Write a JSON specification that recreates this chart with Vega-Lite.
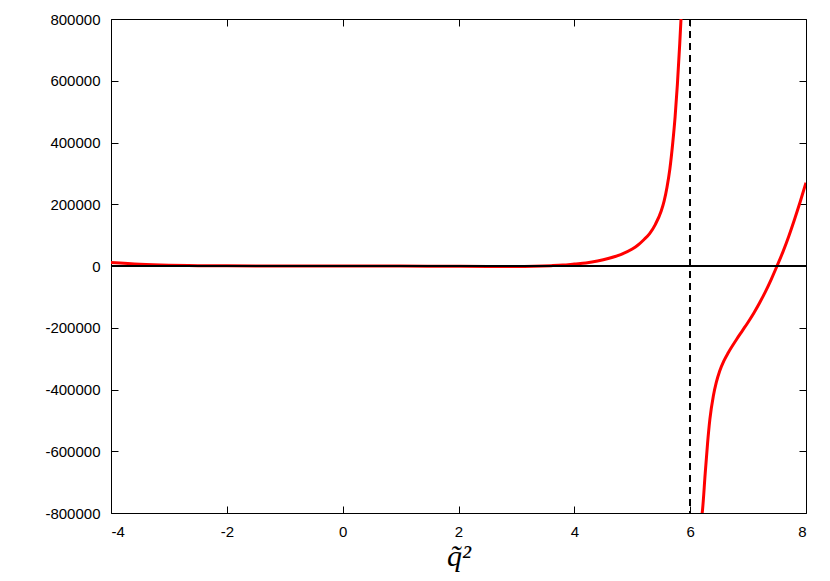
{
  "$schema": "https://vega.github.io/schema/vega-lite/v6.json",
  "width": 695,
  "height": 494,
  "autosize": {"type": "none"},
  "padding": {"left": 111, "top": 19, "right": 24, "bottom": 68},
  "background": "white",
  "config": {
    "view": {"stroke": "black", "strokeWidth": 1},
    "axis": {
      "labelFont": "Liberation Sans",
      "labelFontSize": 15,
      "labelColor": "black",
      "domain": false,
      "grid": false,
      "tickColor": "black",
      "tickSize": -7,
      "tickWidth": 1
    }
  },
  "data": {
    "values": [
      {"branch": "a", "q2": -4.0, "v": 11000},
      {"branch": "a", "q2": -3.5, "v": 5500},
      {"branch": "a", "q2": -3.0, "v": 2500},
      {"branch": "a", "q2": -2.5, "v": 1200},
      {"branch": "a", "q2": -2.0, "v": 500},
      {"branch": "a", "q2": -1.0, "v": 0},
      {"branch": "a", "q2": 0.0, "v": 0},
      {"branch": "a", "q2": 1.0, "v": -300},
      {"branch": "a", "q2": 2.0, "v": -1000},
      {"branch": "a", "q2": 2.5, "v": -1500},
      {"branch": "a", "q2": 3.0, "v": -1800},
      {"branch": "a", "q2": 3.3, "v": -1000},
      {"branch": "a", "q2": 3.6, "v": 1000},
      {"branch": "a", "q2": 3.8, "v": 3000},
      {"branch": "a", "q2": 4.0, "v": 6500},
      {"branch": "a", "q2": 4.2, "v": 10000},
      {"branch": "a", "q2": 4.4, "v": 16000},
      {"branch": "a", "q2": 4.6, "v": 25000},
      {"branch": "a", "q2": 4.8, "v": 37000},
      {"branch": "a", "q2": 5.0, "v": 55000},
      {"branch": "a", "q2": 5.1, "v": 68000},
      {"branch": "a", "q2": 5.2, "v": 85000},
      {"branch": "a", "q2": 5.3, "v": 105000},
      {"branch": "a", "q2": 5.4, "v": 135000},
      {"branch": "a", "q2": 5.5, "v": 178000},
      {"branch": "a", "q2": 5.55, "v": 210000},
      {"branch": "a", "q2": 5.6, "v": 255000},
      {"branch": "a", "q2": 5.65, "v": 315000},
      {"branch": "a", "q2": 5.7, "v": 400000},
      {"branch": "a", "q2": 5.74, "v": 483000},
      {"branch": "a", "q2": 5.78, "v": 590000},
      {"branch": "a", "q2": 5.82, "v": 720000},
      {"branch": "a", "q2": 5.85, "v": 830000},
      {"branch": "b", "q2": 6.19, "v": -821000},
      {"branch": "b", "q2": 6.21, "v": -796000},
      {"branch": "b", "q2": 6.26, "v": -671000},
      {"branch": "b", "q2": 6.3, "v": -575000},
      {"branch": "b", "q2": 6.34, "v": -497000},
      {"branch": "b", "q2": 6.4, "v": -421000},
      {"branch": "b", "q2": 6.45, "v": -378000},
      {"branch": "b", "q2": 6.51, "v": -340000},
      {"branch": "b", "q2": 6.58, "v": -308000},
      {"branch": "b", "q2": 6.66, "v": -280000},
      {"branch": "b", "q2": 6.8, "v": -238000},
      {"branch": "b", "q2": 6.9, "v": -210000},
      {"branch": "b", "q2": 7.0, "v": -182000},
      {"branch": "b", "q2": 7.1, "v": -152000},
      {"branch": "b", "q2": 7.2, "v": -119000},
      {"branch": "b", "q2": 7.3, "v": -83000},
      {"branch": "b", "q2": 7.4, "v": -43000},
      {"branch": "b", "q2": 7.5, "v": 0},
      {"branch": "b", "q2": 7.6, "v": 45000},
      {"branch": "b", "q2": 7.7, "v": 95000},
      {"branch": "b", "q2": 7.8, "v": 150000},
      {"branch": "b", "q2": 7.9, "v": 208000},
      {"branch": "b", "q2": 8.0, "v": 270000}
    ]
  },
  "layer": [
    {
      "mark": {"type": "line", "color": "#ff0000", "strokeWidth": 3, "clip": true, "interpolate": "monotone"},
      "encoding": {
        "x": {
          "field": "q2", "type": "quantitative",
          "scale": {"domain": [-4, 8], "nice": false, "zero": false},
          "axis": {
            "orient": "bottom", "values": [-4, -2, 0, 2, 4, 6, 8],
            "labelExpr": "'' + datum.value",
            "labelPadding": 18,
            "title": "q̃²",
            "titleFont": "Liberation Serif", "titleFontStyle": "italic", "titleFontWeight": "normal",
            "titleFontSize": 30, "titleColor": "black",
            "titleBaseline": "alphabetic", "titleY": 52
          }
        },
        "y": {
          "field": "v", "type": "quantitative",
          "scale": {"domain": [-800000, 800000], "nice": false},
          "axis": {
            "orient": "left",
            "values": [-800000, -600000, -400000, -200000, 0, 200000, 400000, 600000, 800000],
            "labelExpr": "'' + datum.value", "labelPadding": 18, "title": null
          }
        },
        "detail": {"field": "branch"}
      }
    },
    {
      "mark": {"type": "rule", "color": "black", "strokeWidth": 1},
      "encoding": {
        "y": {"datum": 0, "type": "quantitative", "axis": {"orient": "right", "labels": false, "title": null, "values": [-800000, -600000, -400000, -200000, 0, 200000, 400000, 600000, 800000]}}
      }
    },
    {
      "mark": {"type": "rule", "color": "black", "strokeWidth": 1.3, "strokeDash": [7, 5]},
      "encoding": {
        "x": {"datum": 6, "type": "quantitative", "axis": {"orient": "top", "labels": false, "title": null, "values": [-4, -2, 0, 2, 4, 6, 8]}}
      }
    }
  ]
}
